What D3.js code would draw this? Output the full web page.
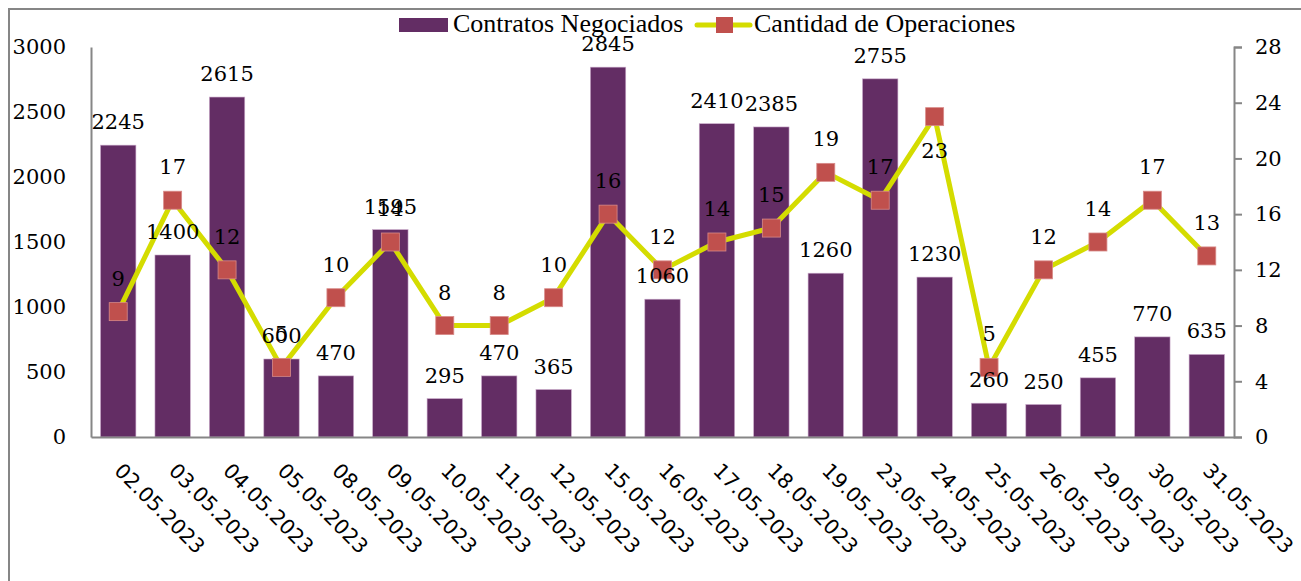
<!DOCTYPE html>
<html>
<head>
<meta charset="utf-8">
<script src="https://cdn.jsdelivr.net/npm/d3@7"></script>
<style>
  body { margin: 0; background: #fff; }
  svg { display: block; }
</style>
</head>
<body>
<div id="chart"></div>
<script>
// Data
const fechas = ['02.05.2023', '03.05.2023', '04.05.2023', '05.05.2023', '08.05.2023', '09.05.2023',
  '10.05.2023', '11.05.2023', '12.05.2023', '15.05.2023', '16.05.2023', '17.05.2023', '18.05.2023',
  '19.05.2023', '23.05.2023', '24.05.2023', '25.05.2023', '26.05.2023', '29.05.2023', '30.05.2023', '31.05.2023'];
const contratos = [2245, 1400, 2615, 600, 470, 1595, 295, 470, 365, 2845, 1060, 2410, 2385,
  1260, 2755, 1230, 260, 250, 455, 770, 635];
const operaciones = [9, 17, 12, 5, 10, 14, 8, 8, 10, 16, 12, 14, 15, 19, 17, 23, 5, 12, 14, 17, 13];
const ticksLeft = [0, 500, 1000, 1500, 2000, 2500, 3000];
const ticksRight = [0, 4, 8, 12, 16, 20, 24, 28];

const width = 1301;
const height = 581;
const margin = {top: 47, right: 67, bottom: 144, left: 91};

const purple = '#632d64';
const yellow = '#d4dc00';
const red = '#c0504d';
const grey = '#868686';
const numFont = '"DejaVu Serif", serif';
const textFont = '"Liberation Serif", serif';

const svg = d3.select('#chart')
  .append('svg')
  .attr('width', width)
  .attr('height', height);

// outer frame
svg.append('rect')
  .attr('x', 9).attr('y', 9)
  .attr('width', width + 20).attr('height', height + 20)
  .attr('fill', 'none')
  .attr('stroke', grey)
  .attr('stroke-width', 2);

const x = d3.scaleBand()
  .domain(fechas)
  .range([margin.left, width - margin.right])
  .paddingInner(0.35)
  .paddingOuter(0.175);

const yL = d3.scaleLinear().domain([0, 3000]).range([height - margin.bottom, margin.top]);
const yR = d3.scaleLinear().domain([0, 28]).range([height - margin.bottom, margin.top]);

// bars
svg.selectAll('rect.bar')
  .data(contratos)
  .enter()
  .append('rect')
  .attr('class', 'bar')
  .attr('x', (d, i) => x(fechas[i]))
  .attr('y', d => yL(d))
  .attr('width', x.bandwidth())
  .attr('height', d => yL(0) - yL(d))
  .attr('fill', purple)
  .attr('stroke', '#c9a8c9')
  .attr('stroke-width', 0.6);

// left axis
const axisL = svg.append('g')
  .attr('transform', `translate(${margin.left},0)`)
  .call(d3.axisLeft(yL).tickValues(ticksLeft).tickFormat(d3.format('d')).tickSize(0).tickPadding(25));
axisL.select('.domain').attr('stroke', grey).attr('stroke-width', 2);
axisL.selectAll('text').attr('font-family', numFont).attr('font-size', 21).attr('fill', '#000');

// right axis
const axisR = svg.append('g')
  .attr('transform', `translate(${width - margin.right},0)`)
  .call(d3.axisRight(yR).tickValues(ticksRight).tickSize(8).tickSizeOuter(8).tickPadding(13));
axisR.select('.domain').attr('stroke', grey).attr('stroke-width', 2);
axisR.selectAll('line').attr('stroke', grey).attr('stroke-width', 2);
axisR.selectAll('text').attr('font-family', numFont).attr('font-size', 21).attr('fill', '#000');

// bottom axis
const axisB = svg.append('g')
  .attr('transform', `translate(0,${height - margin.bottom})`)
  .call(d3.axisBottom(x).tickSize(0).tickSizeOuter(0).tickPadding(0));
axisB.select('.domain').attr('stroke', grey).attr('stroke-width', 2);
axisB.selectAll('text')
  .attr('font-family', '"DejaVu Sans", sans-serif')
  .attr('font-size', 20.5)
  .attr('fill', '#000')
  .attr('text-anchor', 'start')
  .attr('dy', 0)
  .attr('transform', 'translate(-5,35) rotate(45)');

// line
const cx = (d, i) => x(fechas[i]) + x.bandwidth() / 2;
const line = d3.line()
  .x(cx)
  .y(d => yR(d));

svg.append('path')
  .datum(operaciones)
  .attr('d', line)
  .attr('fill', 'none')
  .attr('stroke', yellow)
  .attr('stroke-width', 5)
  .attr('stroke-linejoin', 'round');

const mk = 18;
svg.selectAll('rect.marker')
  .data(operaciones)
  .enter()
  .append('rect')
  .attr('class', 'marker')
  .attr('x', (d, i) => cx(d, i) - mk / 2)
  .attr('y', d => yR(d) - mk / 2)
  .attr('width', mk)
  .attr('height', mk)
  .attr('fill', red)
  .attr('stroke', '#d88a88')
  .attr('stroke-width', 0.8);

// bar labels
svg.selectAll('text.barlab')
  .data(contratos)
  .enter()
  .append('text')
  .attr('class', 'barlab')
  .attr('x', (d, i) => cx(d, i))
  .attr('y', d => yL(d) - 16)
  .attr('text-anchor', 'middle')
  .attr('font-family', numFont)
  .attr('font-size', 21)
  .text(d => d);

// line labels (the highest point is labelled below its marker)
const maxOp = d3.max(operaciones);
svg.selectAll('text.oplab')
  .data(operaciones)
  .enter()
  .append('text')
  .attr('class', 'oplab')
  .attr('x', (d, i) => cx(d, i))
  .attr('y', d => d === maxOp ? yR(d) + 41 : yR(d) - 26)
  .attr('text-anchor', 'middle')
  .attr('font-family', numFont)
  .attr('font-size', 21)
  .text(d => d);

// legend
const lg = svg.append('g');
lg.append('rect')
  .attr('x', 399).attr('y', 18)
  .attr('width', 49).attr('height', 14)
  .attr('fill', purple);
lg.append('text')
  .attr('x', 453).attr('y', 32)
  .attr('font-family', textFont)
  .attr('font-size', 26)
  .text('Contratos Negociados');
lg.append('line')
  .attr('x1', 697).attr('x2', 750)
  .attr('y1', 25).attr('y2', 25)
  .attr('stroke', yellow)
  .attr('stroke-width', 5)
  .attr('stroke-linecap', 'round');
lg.append('rect')
  .attr('x', 716).attr('y', 17)
  .attr('width', 17).attr('height', 16)
  .attr('fill', red);
lg.append('text')
  .attr('x', 754).attr('y', 32)
  .attr('font-family', textFont)
  .attr('font-size', 26)
  .text('Cantidad de Operaciones');
</script>
</body>
</html>
